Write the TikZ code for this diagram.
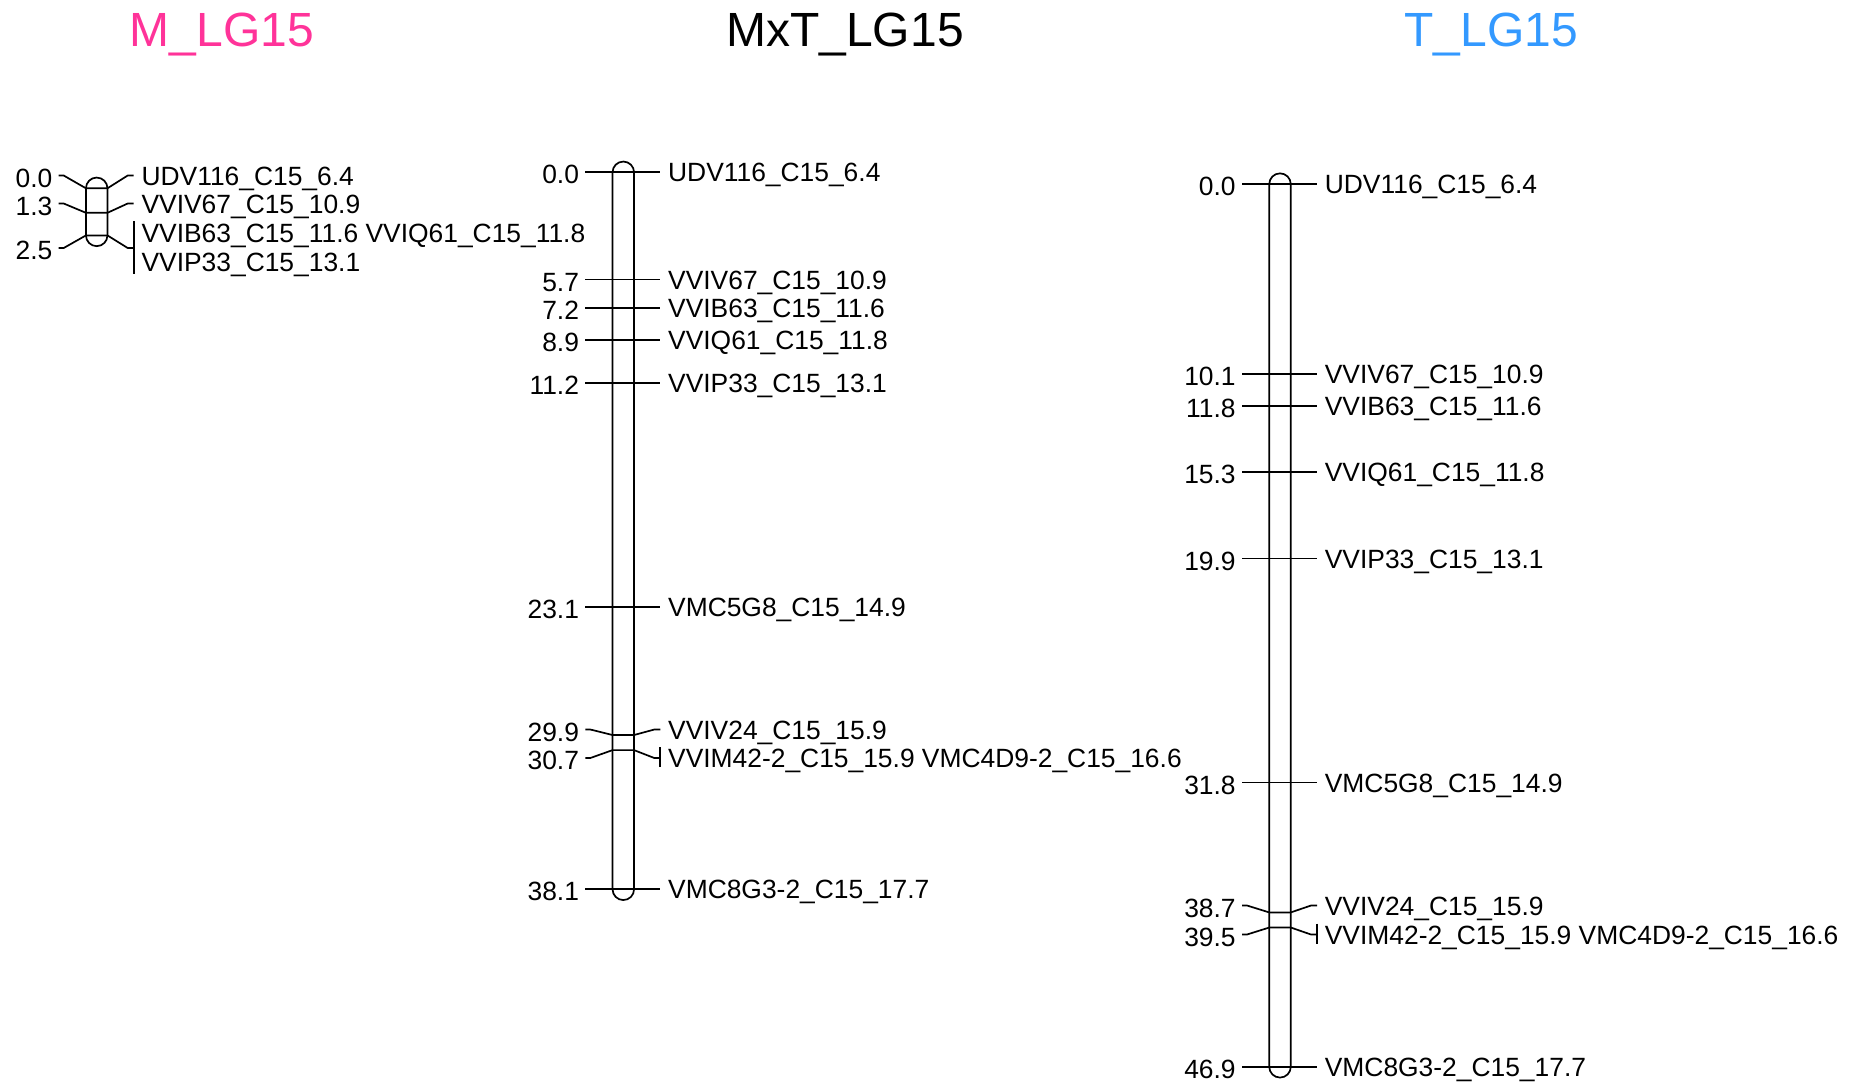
\documentclass[tikz,border=0pt]{standalone}
\usepackage{fontspec}
\setmainfont{Liberation Sans}
\definecolor{mpink}{HTML}{FF3399}
\definecolor{tblue}{HTML}{3399FF}
% #1 name, #2 chromosome centre x, #3 marker y, #4 label y, #5 position, #6 marker label
\newcommand{\mk}[6]{%
  \coordinate (#1-m) at ({#2},{#3});
  \node[num] (#1-n) at ({#2-43.5},{#4+11.5}) {#5};
  \node[lab] (#1-l) at ({#2+44},{#4+9.5}) {#6};
  \draw ({#2-38},{#4}) -- ({#2-33},{#4}) -- ({#2-10.75},{#3}) -- ({#2+10.75},{#3}) -- ({#2+31},{#4}) -- ({#2+37},{#4});
}
\begin{document}
\begin{tikzpicture}[x=0.5pt,y=-0.5pt,line width=0.85pt,
  num/.style={anchor=base east,inner sep=0pt,font=\fontsize{13.2}{15}\selectfont},
  lab/.style={anchor=base west,inner sep=0pt,font=\fontsize{13.2}{15}\selectfont},
  ttl/.style={anchor=base,inner sep=0pt,font=\fontsize{24}{28}\selectfont},
  chrom/.style={draw,rounded corners=5.375pt}]
\useasboundingbox (0,0) rectangle (1863,1084);

% titles
\node[ttl,text=mpink] (tm) at (222,46) {M\_LG15};
\node[ttl] (tmt) at (845,46) {MxT\_LG15};
\node[ttl,text=tblue] (tt) at (1491,46) {T\_LG15};

% ---------------- M_LG15 ----------------
\draw[chrom] (85.95,177.55) rectangle (107.45,246.15);
\mk{m0}{96.7}{188.3}{175.5}{0.0}{UDV116\_C15\_6.4}
\mk{m1}{96.7}{212.8}{203.5}{1.3}{VVIV67\_C15\_10.9}
\node[num] (m2-n) at (53.2,259.5) {2.5};
\node[lab] (m2-l1) at (140.7,242.5) {VVIB63\_C15\_11.6 VVIQ61\_C15\_11.8};
\node[lab] (m2-l2) at (140.7,271) {VVIP33\_C15\_13.1};
\draw (58.7,248) -- (63.7,248) -- (85.95,235.4) -- (107.45,235.4) -- (127.7,248) -- (133.7,248);
\draw (133.7,221) -- (133.7,273.5);

% ---------------- MxT_LG15 ----------------
\draw[chrom] (612.55,161.55) rectangle (634.05,900.05);
\mk{x0}{623.3}{172.3}{172.3}{0.0}{UDV116\_C15\_6.4}
\mk{x1}{623.3}{279.6}{279.6}{5.7}{VVIV67\_C15\_10.9}
\mk{x2}{623.3}{307.8}{307.8}{7.2}{VVIB63\_C15\_11.6}
\mk{x3}{623.3}{339.8}{339.8}{8.9}{VVIQ61\_C15\_11.8}
\mk{x4}{623.3}{383.1}{383.1}{11.2}{VVIP33\_C15\_13.1}
\mk{x5}{623.3}{607.0}{607.0}{23.1}{VMC5G8\_C15\_14.9}
\mk{x6}{623.3}{735.0}{729.5}{29.9}{VVIV24\_C15\_15.9}
\mk{x7}{623.3}{750.1}{758.0}{30.7}{VVIM42-2\_C15\_15.9 VMC4D9-2\_C15\_16.6}
\draw (660.3,747) -- (660.3,767);
\mk{x8}{623.3}{889.3}{889.3}{38.1}{VMC8G3-2\_C15\_17.7}

% ---------------- T_LG15 ----------------
\draw[chrom] (1269.25,173.35) rectangle (1290.75,1077.55);
\mk{t0}{1280}{184.1}{184.1}{0.0}{UDV116\_C15\_6.4}
\mk{t1}{1280}{374.2}{374.2}{10.1}{VVIV67\_C15\_10.9}
\mk{t2}{1280}{406.2}{406.2}{11.8}{VVIB63\_C15\_11.6}
\mk{t3}{1280}{472.0}{472.0}{15.3}{VVIQ61\_C15\_11.8}
\mk{t4}{1280}{558.6}{558.6}{19.9}{VVIP33\_C15\_13.1}
\mk{t5}{1280}{782.6}{782.6}{31.8}{VMC5G8\_C15\_14.9}
\mk{t6}{1280}{912.4}{905.5}{38.7}{VVIV24\_C15\_15.9}
\mk{t7}{1280}{927.5}{934.5}{39.5}{VVIM42-2\_C15\_15.9 VMC4D9-2\_C15\_16.6}
\draw (1317,923.5) -- (1317,943.5);
\mk{t8}{1280}{1066.8}{1066.8}{46.9}{VMC8G3-2\_C15\_17.7}
\end{tikzpicture}
\end{document}
